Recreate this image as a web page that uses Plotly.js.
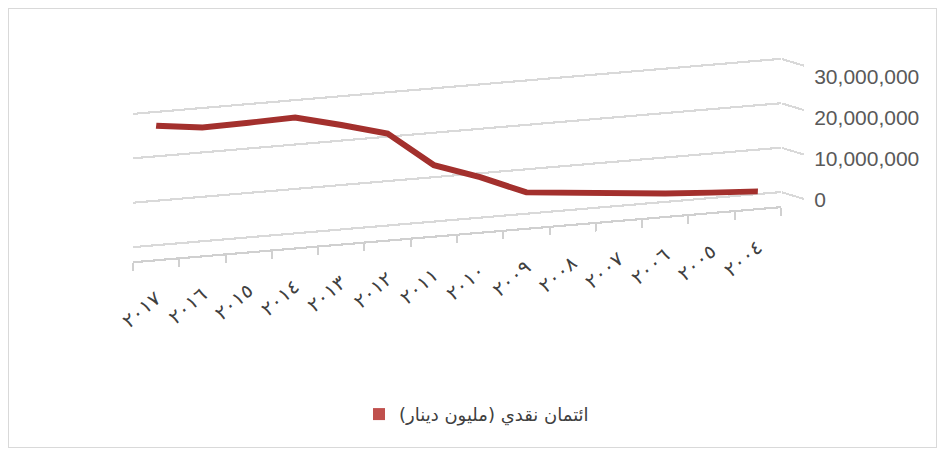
<!DOCTYPE html>
<html><head><meta charset="utf-8">
<script src="https://cdn.plot.ly/plotly-3.0.1.min.js"></script>
<style>
html,body{margin:0;padding:0;background:#fff;}
#wrap{position:relative;width:943px;height:453px;overflow:hidden;background:#fff;}
#chart{position:absolute;left:0;top:0;width:943px;height:453px;}
#frame{position:absolute;left:8px;top:8px;width:927px;height:438px;border:1px solid #d9d9d9;pointer-events:none;}
</style></head><body>
<div id="wrap"><div id="chart"></div><div id="frame"></div></div>
<script>
// ---- data ----
const years = ['٢٠١٧','٢٠١٦','٢٠١٥','٢٠١٤','٢٠١٣','٢٠١٢','٢٠١١','٢٠١٠','٢٠٠٩','٢٠٠٨','٢٠٠٧','٢٠٠٦','٢٠٠٥','٢٠٠٤'];
const cashCredit = [26900000, 25600000, 25800000, 26100000, 23500000, 20700000, 12700000, 9100000, 4800000, 3800000, 2800000, 1900000, 1200000, 600000];
const seriesName = 'ائتمان نقدي (مليون دينار)';
const valueTicks = [0, 10000000, 20000000, 30000000];

const trace = {
  type: 'scatter',
  mode: 'lines+markers',
  x: years,
  y: cashCredit,
  name: seriesName + '\u200F',
  line: {color: '#A3302D', width: 5.5},
  marker: {symbol: 'square', color: '#C0504D', opacity: 1, line: {width: 0}, size: years.map(() => 0.01)},
  hoverinfo: 'skip'
};

const layout = {
  width: 943, height: 453,
  margin: {l: 133, r: 162, t: 75.265, b: 240, pad: 0},
  paper_bgcolor: 'rgba(0,0,0,0)', plot_bgcolor: 'rgba(0,0,0,0)',
  showlegend: true,
  legend: {
    orientation: 'h', x: 0.3488, xanchor: 'left', y: -1.4593, yanchor: 'middle',
    font: {family: 'DejaVu Sans', size: 18, color: '#404040'},
    itemsizing: 'constant', itemwidth: 30, bgcolor: 'rgba(0,0,0,0)'
  },
  xaxis: {
    type: 'category', categoryorder: 'array', categoryarray: years,
    range: [-0.5, 13.5], autorange: false,
    showgrid: false, zeroline: false,
    showline: true, linecolor: '#d0d0d0', linewidth: 2,
    ticks: 'outside', tickson: 'boundaries', ticklen: 7, tickwidth: 2, tickcolor: '#d0d0d0',
    tickangle: -36, ticklabelstandoff: 16,
    tickfont: {family: 'DejaVu Sans', size: 19, color: '#404040'},
    automargin: false, fixedrange: true
  },
  yaxis: {
    side: 'right', range: [-3160000, 30300000], autorange: false, tickvals: valueTicks, tickformat: ',d',
    showgrid: true, gridcolor: '#d9d9d9', gridwidth: 2, zeroline: false, showline: false,
    ticks: 'outside', ticklen: 22, tickwidth: 2, tickcolor: '#d9d9d9', ticklabelstandoff: 6,
    tickfont: {family: 'Liberation Sans', size: 21, color: '#595959'},
    automargin: false, fixedrange: true
  }
};

// oblique view of the plot plane (slanted like the 3-D reference)
const tilt = -0.085, stretch = 1.077, shift = 43.085;
// right side wall: value ticks run down-right from the end of each grid line
const wallSlope = 0.3;

Plotly.newPlot('chart', [trace], layout, {staticPlot: true, displayModeBar: false}).then(gd => {
  const M = 'matrix(1,' + tilt + ',0,' + stretch + ',0,' + shift + ')';
  const sel = ['.gridlayer', '.zerolinelayer', '.overplot', '.xlines-above', '.xlines-below', '.xaxislayer-above'];
  sel.forEach(s => {
    gd.querySelectorAll('.cartesianlayer ' + s).forEach(el => {
      const old = el.getAttribute('transform') || '';
      el.setAttribute('transform', M + ' ' + old);
    });
  });
  const xR = gd._fullLayout._size.l + gd._fullLayout._size.w;
  const wallShift = shift + tilt * xR - wallSlope * xR;
  const W = 'matrix(1,' + wallSlope + ',0,' + stretch + ',0,' + wallShift + ')';
  gd.querySelectorAll('.cartesianlayer .yaxislayer-above path.ytick').forEach(el => {
    const old = el.getAttribute('transform') || '';
    el.setAttribute('transform', W + ' ' + old);
  });
  gd.querySelectorAll('.legend .legendlines').forEach(el => { el.style.display = 'none'; });
});
</script>
</body></html>
